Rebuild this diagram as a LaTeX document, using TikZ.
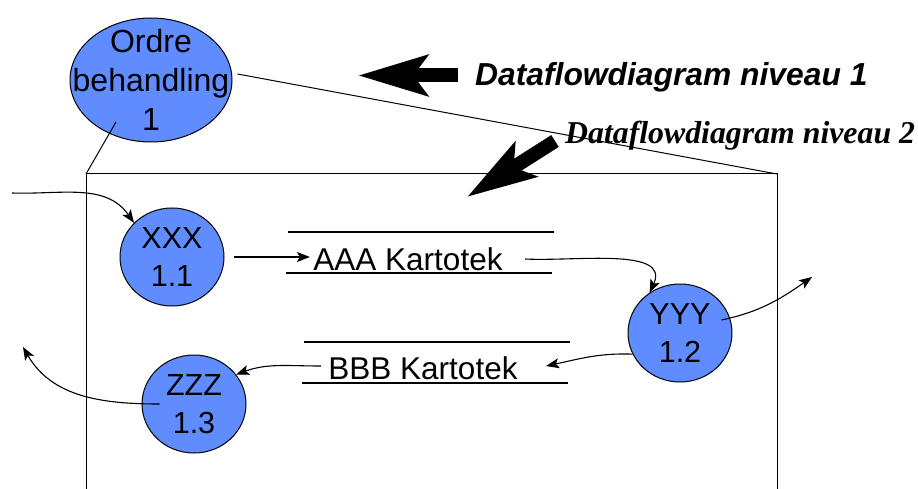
\documentclass[tikz,border=0pt]{standalone}
\usepackage{fontspec}
\setmainfont{Liberation Sans}
\newfontfamily\titreserif{Liberation Serif}
\usetikzlibrary{shapes.geometric,arrows.meta}
\definecolor{bleuproc}{RGB}{95,140,255}

\begin{document}
\begin{tikzpicture}[
    x=1pt, y=1pt,
    % Bulles des processus
    proc/.style={ellipse, draw, line width=1pt, fill=bleuproc, minimum width=104pt,
        minimum height=98pt, inner sep=0pt, align=center, font=\fontsize{30.5}{38}\selectfont},
    bigproc/.style={ellipse, draw, line width=1pt, fill=bleuproc, minimum width=162pt, minimum height=124pt},
    store/.style={font=\fontsize{31.5}{37}\selectfont},
    storeline/.style={line width=2.8pt},
    % Flux de données
    flow/.style={line width=1.1pt, -{Stealth[length=13pt,width=10pt,inset=3pt]}},
    bigarrow/.style={line width=14pt, -{Stealth[length=69pt,width=40pt,inset=14pt]}},
    frame/.style={line width=1pt},
    titre/.style={anchor=base west, inner sep=0pt, font=\fontsize{31.8}{37}\selectfont\bfseries\itshape}
]
\useasboundingbox (0,0) rectangle (918,488);

% Niveau 1
\node[bigproc, label={[align=center, font=\fontsize{32}{39}\selectfont]center:Ordre\\behandling\\1}] (ordre) at (151,408) {};

% Cadre du niveau 2
\coordinate (boxtl) at (86,314);
\coordinate (boxtr) at (777,314);
\draw[frame] (86,-5) -- (boxtl) -- (boxtr) -- (777,-5);
\draw[frame] ([shift={(-35pt,-42pt)}]ordre.center) -- (boxtl);
\draw[frame] ([shift={(5pt,6pt)}]ordre.east) -- (boxtr);

% Titres
\node[titre] (niveauun) at (475,402) {Dataflowdiagram niveau 1};
\node[titre, font=\titreserif\fontsize{31.8}{37}\selectfont\bfseries\itshape] (niveaudeux) at (565,344) {Dataflowdiagram niveau 2};
\draw[bigarrow] (458,412.5) -- (358,412.5);
\draw[bigarrow] (555,347) -- (467,291);

% Processus
\node[proc] (xxx) at (172,231) {XXX\\1.1};
\node[proc] (yyy) at (680,155) {YYY\\1.2};
\node[proc] (zzz) at (194,84) {ZZZ\\1.3};

% Kartoteker
\node[store] (aaa) at (408,229) {AAA Kartotek};
\node[store] (bbb) at (423,120) {BBB Kartotek};
\draw[storeline] (288,256) -- (554,256);
\draw[storeline] (286,215) -- (552,215);
\draw[storeline] (304,146) -- (570,146);
\draw[storeline] (302,105) -- (568,105);

% Flux
\coordinate (entree) at (12,295);
\coordinate (sortiey) at (812,211);
\coordinate (sortiez) at (23,141);
\draw[flow] (entree) to[out=-2, in=125] (xxx.138);
\draw[flow, shorten <=9pt] (xxx.east) -- (xxx.east -| aaa.west);
\draw[flow] ([xshift=19pt]aaa.east) to[out=-3, in=65] (yyy.127);
\draw[flow] ([shift={(-11pt,13pt)}]yyy.east) to[out=12, in=215] (sortiey);
\draw[flow] (yyy.204) to[out=178, in=12] ([shift={(25pt,2pt)}]bbb.east);
\draw[flow] ([shift={(-4pt,2pt)}]bbb.west) to[out=180, in=20] (zzz.35);
\draw[flow] ([xshift=18pt]zzz.west) to[out=180, in=-60] (sortiez);
\end{tikzpicture}
\end{document}
